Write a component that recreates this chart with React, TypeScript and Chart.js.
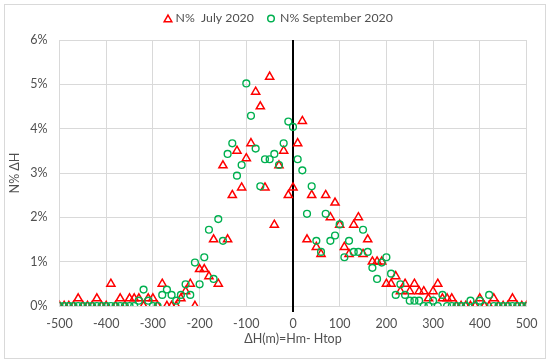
import { useEffect, useRef } from "react";
import { Chart, registerables } from "chart.js";

Chart.register(...registerables);

const deltaH = [
  -500, -490, -480, -470, -460, -450, -440, -430, -420, -410,
  -400, -390, -380, -370, -360, -350, -340, -330, -320, -310,
  -300, -290, -280, -270, -260, -250, -240, -230, -220, -210,
  -200, -190, -180, -170, -160, -150, -140, -130, -120, -110,
  -100, -90, -80, -70, -60, -50, -40, -30, -20, -10,
  0, 10, 20, 30, 40, 50, 60, 70, 80, 90,
  100, 110, 120, 130, 140, 150, 160, 170, 180, 190,
  200, 210, 220, 230, 240, 250, 260, 270, 280, 290,
  300, 310, 320, 330, 340, 350, 360, 370, 380, 390,
  400, 410, 420, 430, 440, 450, 460, 470, 480, 490,
  500,
];

const julyPct = [
  0, 0, 0, 0, 0.17, 0, 0, 0, 0.17, 0,
  0, 0.5, 0, 0.17, 0, 0.17, 0.17, 0.17, 0, 0.17,
  0.17, 0, 0.5, 0, 0, 0, 0.17, 0.33, 0.5, 0,
  0.83, 0.83, 0.67, 1.5, 0.5, 3.17, 1.5, 2.5, 3.5, 2.67,
  3.33, 3.67, 4.83, 4.5, 2.67, 5.17, 1.83, 3.17, 3.5, 2.5,
  2.67, 3.67, 4.17, 1.5, 2.5, 1.33, 1.17, 2.5, 2.0, 2.33,
  1.83, 1.33, 1.17, 1.83, 2.0, 1.17, 1.5, 1.0, 1.0, 1.0,
  0.5, 0.5, 0.67, 0.33, 0.5, 0.33, 0.5, 0.33, 0.33, 0.17,
  0.33, 0.5, 0.17, 0.17, 0.17, 0, 0, 0, 0, 0,
  0.17, 0, 0, 0.17, 0, 0, 0, 0.17, 0, 0,
  0,
];

const septPct = [
  0, 0, 0, 0, 0, 0, 0, 0, 0, 0,
  0, 0, 0, 0, 0, 0, 0, 0.12, 0.37, 0.12,
  0, 0, 0.25, 0.37, 0.25, 0.12, 0.25, 0.49, 0.25, 0.98,
  0.49, 1.1, 1.72, 0.61, 1.96, 1.47, 3.43, 3.67, 2.94, 3.18,
  5.02, 4.29, 3.55, 2.7, 3.31, 3.31, 3.43, 3.18, 3.67, 4.16,
  4.04, 3.31, 3.06, 2.08, 2.7, 1.47, 1.22, 2.08, 1.47, 1.59,
  1.84, 1.1, 1.47, 1.22, 1.22, 1.72, 1.22, 0.86, 0.61, 0.98,
  1.1, 0.73, 0.25, 0.49, 0.25, 0.12, 0.12, 0.12, 0, 0,
  0.12, 0, 0.25, 0, 0, 0, 0, 0, 0.12, 0,
  0.12, 0, 0.25, 0, 0, 0, 0, 0, 0, 0,
  0,
];

const xTickValues = [-500, -400, -300, -200, -100, 0, 100, 200, 300, 400, 500];
const yTickValues = [0, 1, 2, 3, 4, 5, 6];

const seriesLabels = ["N%  July 2020", "N% September 2020"];
const xTitle = "ΔH(m)=Hm- Htop";
const yTitle = "N% ΔH";

const RED = "#ff0000";
const GREEN = "#00b050";
const GRID = "#d9d9d9";
const TEXT = "#505050";
const FONT_FAMILY = "Lato, 'Open Sans', sans-serif";

export default function App() {
  const canvasRef = useRef<HTMLCanvasElement | null>(null);

  useEffect(() => {
    const canvas = canvasRef.current;
    if (!canvas) return;

    const framePlugin = {
      id: "frame",
      beforeDraw(chart: any) {
        const { ctx, width, height } = chart;
        ctx.save();
        ctx.fillStyle = "#ffffff";
        ctx.fillRect(0, 0, width, height);
        ctx.strokeStyle = GRID;
        ctx.lineWidth = 1;
        ctx.strokeRect(4.5, 4.5, width - 9, height - 8);
        ctx.restore();
      },
      beforeDatasetsDraw(chart: any) {
        const { ctx, chartArea, scales } = chart;
        const x0 = scales.x.getPixelForValue(0);
        ctx.save();
        ctx.strokeStyle = "#000000";
        ctx.lineWidth = 2;
        ctx.beginPath();
        ctx.moveTo(x0, chartArea.top);
        ctx.lineTo(x0, chartArea.bottom + 6);
        ctx.stroke();
        ctx.restore();
      },
      afterDraw(chart: any) {
        const { ctx } = chart;
        const y = 18.5;
        ctx.save();
        ctx.font = `12.3px ${FONT_FAMILY}`;
        ctx.textBaseline = "middle";
        ctx.fillStyle = TEXT;
        const tx = 168;
        const r = 4.4;
        ctx.strokeStyle = RED;
        ctx.lineWidth = 1.5;
        ctx.beginPath();
        for (let k = 0; k < 3; k++) {
          const a = (k * 2 * Math.PI) / 3;
          const px = tx + Math.sin(a) * r;
          const py = y + 1 - Math.cos(a) * r;
          if (k === 0) ctx.moveTo(px, py);
          else ctx.lineTo(px, py);
        }
        ctx.closePath();
        ctx.stroke();
        ctx.fillText(chart.data.datasets[0].label, 175.5, y);
        ctx.strokeStyle = GREEN;
        ctx.beginPath();
        ctx.arc(271, y, 3.3, 0, Math.PI * 2);
        ctx.stroke();
        ctx.fillText(chart.data.datasets[1].label, 280, y);
        ctx.restore();
      },
    };

    const tickFont = { family: FONT_FAMILY, size: 12.5 };

    const chart = new Chart(canvas, {
      type: "scatter",
      data: {
        datasets: [
          {
            label: seriesLabels[0],
            data: deltaH.map((x, i) => ({ x, y: julyPct[i] })),
            pointStyle: "triangle",
            pointRadius: 4.7,
            pointBorderWidth: 1.5,
            borderColor: RED,
            backgroundColor: "rgba(0,0,0,0)",
            order: 1,
          },
          {
            label: seriesLabels[1],
            data: deltaH.map((x, i) => ({ x, y: septPct[i] })),
            pointStyle: "circle",
            pointRadius: 3.4,
            pointBorderWidth: 1.4,
            borderColor: GREEN,
            backgroundColor: "rgba(0,0,0,0)",
            order: 0,
          },
        ],
      },
      options: {
        responsive: false,
        animation: false,
        events: [],
        layout: { padding: { top: 40, left: 3, right: 23.5, bottom: 12 } },
        plugins: {
          legend: { display: false },
          tooltip: { enabled: false },
        },
        scales: {
          x: {
            type: "linear",
            min: -500,
            max: 500,
            afterBuildTicks: (s: any) => {
              s.ticks = xTickValues.map((v) => ({ value: v }));
            },
            afterFit: (s: any) => {
              s.height = 44;
            },
            grid: {
              color: (c: any) => (c.tick && c.tick.value === 0 ? "rgba(0,0,0,0)" : GRID),
              lineWidth: 1,
              drawTicks: true,
              tickLength: 6,
              tickColor: "rgba(0,0,0,0)",
            },
            border: { color: GRID },
            ticks: { padding: 4.5, color: TEXT, font: tickFont, maxRotation: 0 },
            title: {
              display: true,
              text: xTitle,
              color: TEXT,
              font: tickFont,
              padding: { top: 4, bottom: 4 },
            },
          },
          y: {
            type: "linear",
            min: 0,
            max: 6,
            afterBuildTicks: (s: any) => {
              s.ticks = yTickValues.map((v) => ({ value: v }));
            },
            afterFit: (s: any) => {
              s.width = 56.5;
            },
            grid: { color: GRID, lineWidth: 1, drawTicks: false },
            border: { color: GRID },
            ticks: {
              padding: 12,
              color: TEXT,
              font: tickFont,
              callback: (v: any) => `${v}%`,
            },
            title: {
              display: true,
              text: yTitle,
              color: TEXT,
              font: tickFont,
              padding: { top: 4, bottom: 4 },
            },
          },
        },
      },
      plugins: [framePlugin],
    } as any);

    return () => chart.destroy();
  }, []);

  return (
    <div style={{ position: "fixed", left: 0, top: 0, width: 550, height: 362 }}>
      <canvas ref={canvasRef} width={550} height={362} style={{ display: "block" }} />
    </div>
  );
}
